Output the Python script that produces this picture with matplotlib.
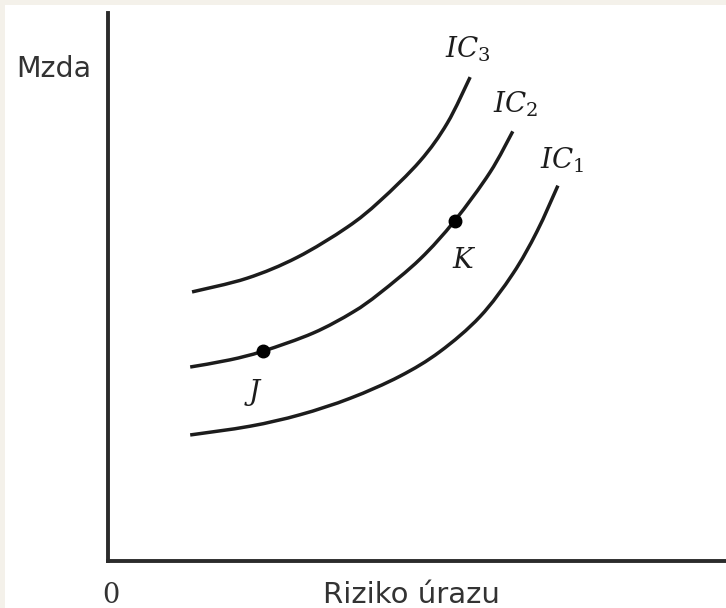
#!/usr/bin/env python3
"""Indifference curves: wage vs. injury risk (IC1, IC2, IC3 with points J and K)."""

import matplotlib

matplotlib.use("Agg")
import matplotlib.pyplot as plt
from matplotlib.patches import PathPatch, Rectangle
from matplotlib.path import Path

# values (x = riziko úrazu, y = mzda, both 0..10)
IC1_X = [1.33, 2.30, 3.11, 3.92, 4.72, 5.37, 6.02, 6.55, 6.94, 7.28]
IC1_Y = [2.30, 2.46, 2.67, 2.97, 3.37, 3.82, 4.46, 5.24, 6.01, 6.85]

IC2_X = [1.33, 1.97, 2.51, 3.32, 3.96, 4.40, 5.05, 5.61, 6.18, 6.55]
IC2_Y = [3.54, 3.67, 3.83, 4.16, 4.54, 4.89, 5.51, 6.21, 7.09, 7.84]

IC3_X = [1.36, 2.25, 3.06, 3.87, 4.40, 5.05, 5.49, 5.86]
IC3_Y = [4.91, 5.16, 5.54, 6.09, 6.57, 7.30, 7.99, 8.83]

POINT_NAMES = ["J", "K"]
POINT_X = [2.51, 5.61]
POINT_Y = [3.83, 6.21]

CURVE_NAMES = ["$IC_1$", "$IC_2$", "$IC_3$"]

W, H = 726, 608
BEIGE = "#f4f1ea"
INK = "#1c1c1c"
AXIS_INK = "#2b2b2b"


def smooth_path(xs, ys):
    """Catmull-Rom through the read points, written as cubic Bezier segments."""
    pts = list(zip(xs, ys))
    verts = [pts[0]]
    codes = [Path.MOVETO]
    for i in range(len(pts) - 1):
        p0 = pts[i - 1] if i > 0 else pts[i]
        p1, p2 = pts[i], pts[i + 1]
        p3 = pts[i + 2] if i + 2 < len(pts) else pts[i + 1]
        c1 = (p1[0] + (p2[0] - p0[0]) / 6, p1[1] + (p2[1] - p0[1]) / 6)
        c2 = (p2[0] - (p3[0] - p1[0]) / 6, p2[1] - (p3[1] - p1[1]) / 6)
        verts += [c1, c2, p2]
        codes += [Path.CURVE4] * 3
    return Path(verts, codes)


def main() -> int:
    plt.rcParams["mathtext.fontset"] = "dejavuserif"
    fig = plt.figure(figsize=(W / 100, H / 100), dpi=100, facecolor=BEIGE)
    fig.patches.append(
        Rectangle((5 / W, 0), 1, 1 - 5 / H, transform=fig.transFigure,
                  facecolor="white", edgecolor="none", zorder=-10)
    )

    ax = fig.add_axes([108 / W, 47 / H, 618 / W, 548 / H])
    ax.set_facecolor("none")
    ax.set_xlim(0, 10)
    ax.set_ylim(0, 10)
    for side in ("top", "right"):
        ax.spines[side].set_visible(False)
    for side in ("left", "bottom"):
        ax.spines[side].set_linewidth(2.8)
        ax.spines[side].set_color(AXIS_INK)
    ax.set_xticks([])
    ax.set_yticks([])

    for xs, ys in ((IC1_X, IC1_Y), (IC2_X, IC2_Y), (IC3_X, IC3_Y)):
        ax.add_patch(PathPatch(smooth_path(xs, ys), facecolor="none",
                               edgecolor=INK, lw=2.5, capstyle="butt"))

    ax.plot(POINT_X, POINT_Y, "o", color="black", ms=9, zorder=5)

    # curve labels sit just above/right of each curve end
    label_pos = [(6.99, 7.17), (6.23, 8.18), (5.45, 9.18)]
    for name, (lx, ly) in zip(CURVE_NAMES, label_pos):
        ax.text(lx, ly, name, fontsize=20, color=INK, ha="left", va="baseline")

    point_label_pos = [(2.27, 2.94), (5.58, 5.35)]
    for name, (lx, ly) in zip(POINT_NAMES, point_label_pos):
        ax.text(lx, ly, name, fontsize=20, color=INK, family="DejaVu Serif",
                style="italic", ha="left", va="baseline")

    fig.text(16 / W, 1 - 77 / H, "Mzda", fontsize=20.5, color="#333333",
             family="DejaVu Sans", ha="left", va="baseline")
    fig.text(411 / W, 1 - 603 / H, "Riziko úrazu", fontsize=21, color="#333333",
             family="DejaVu Sans", ha="center", va="baseline")
    fig.text(111 / W, 1 - 603 / H, "0", fontsize=19.5, color="#333333",
             family="DejaVu Serif", ha="center", va="baseline")

    fig.savefig("out.png", dpi=100, facecolor=BEIGE)
    plt.close(fig)
    return 0


if __name__ == "__main__":
    raise SystemExit(main())
